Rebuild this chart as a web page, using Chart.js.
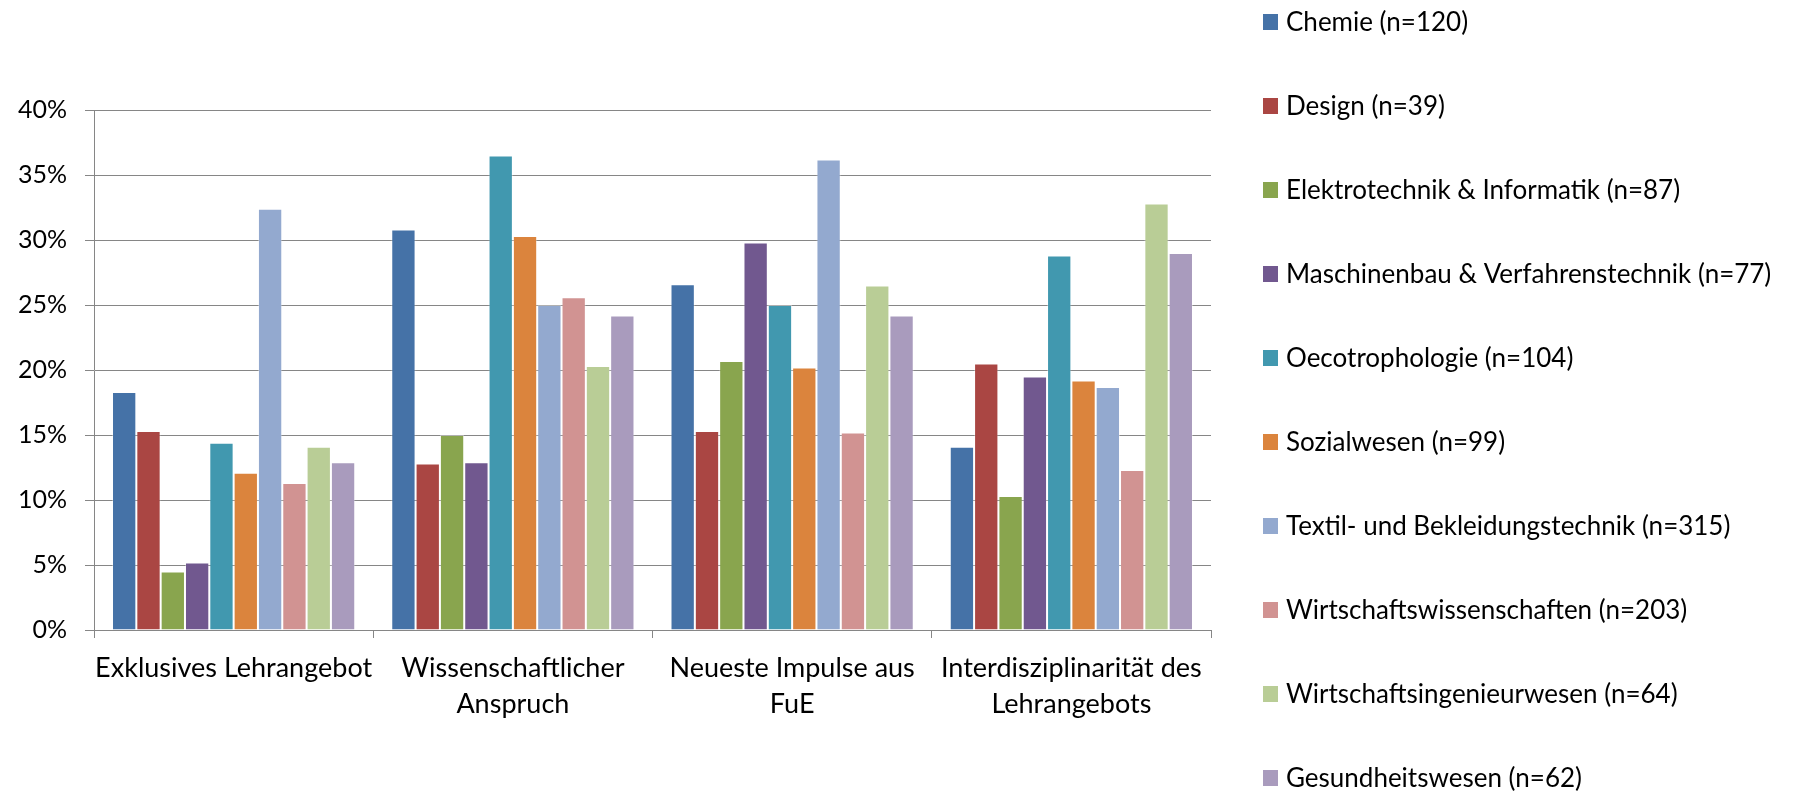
<!DOCTYPE html>
<html>
<head>
<meta charset="utf-8">
<title>Wahlgründe nach Fachbereich</title>
<script src="https://cdn.jsdelivr.net/npm/chart.js@4/dist/chart.umd.min.js"></script>
<style>
  html, body { margin: 0; padding: 0; background: #fff; overflow: hidden; }
  #wrap { width: 1813px; height: 792px; }
</style>
</head>
<body>
<div id="wrap"><canvas id="chart" width="1813" height="792"></canvas></div>
<script>
// Kategorien (x-Achse), mehrzeilige Beschriftungen als Arrays
const categories = [
  'Exklusives Lehrangebot',
  ['Wissenschaftlicher', 'Anspruch'],
  ['Neueste Impulse aus', 'FuE'],
  ['Interdisziplinarität des', 'Lehrangebots']
];

// Fachbereiche (Reihenfolge der Balken je Gruppe)
const seriesNames = [
  'Chemie (n=120)',
  'Design (n=39)',
  'Elektrotechnik & Informatik (n=87)',
  'Maschinenbau & Verfahrenstechnik (n=77)',
  'Oecotrophologie (n=104)',
  'Sozialwesen (n=99)',
  'Textil- und Bekleidungstechnik (n=315)',
  'Wirtschaftswissenschaften (n=203)',
  'Wirtschaftsingenieurwesen (n=64)',
  'Gesundheitswesen (n=62)'
];

// Anteile in Prozent je Kategorie
const chemie          = [18.3, 30.8, 26.6, 14.1];
const design          = [15.3, 12.8, 15.3, 20.5];
const elektrotechnik  = [4.5, 15.0, 20.7, 10.3];
const maschinenbau    = [5.2, 12.9, 29.8, 19.5];
const oecotrophologie = [14.4, 36.5, 25.0, 28.8];
const sozialwesen     = [12.1, 30.3, 20.2, 19.2];
const textil          = [32.4, 25.0, 36.2, 18.7];
const wiwi            = [11.3, 25.6, 15.2, 12.3];
const wiing           = [14.1, 20.3, 26.5, 32.8];
const gesundheit      = [12.9, 24.2, 24.2, 29.0];

const seriesValues = [chemie, design, elektrotechnik, maschinenbau, oecotrophologie,
                      sozialwesen, textil, wiwi, wiing, gesundheit];

const seriesColors = ['#4572A7', '#AA4643', '#89A54E', '#71588F', '#4198AF',
                      '#DB843D', '#93A9CF', '#D19392', '#B9CD96', '#A99BBD'];

// y-Achse: 0 % bis 40 % in 5er-Schritten
const yMin = 0, yMax = 40, yStep = 5;

const FONT = 'Lato, "Open Sans", sans-serif';
const AXIS_GREY = '#868686';

// Legende rechts neben dem Diagramm, eine Spalte mit großem Zeilenabstand
const sideLegend = {
  id: 'sideLegend',
  afterDraw(chart, args, o) {
    const ctx = chart.ctx;
    ctx.save();
    ctx.font = `${o.size}px ${FONT}`;
    ctx.textBaseline = 'middle';
    ctx.textAlign = 'left';
    chart.data.datasets.forEach((ds, i) => {
      const cy = o.top + i * o.step;
      ctx.fillStyle = ds.backgroundColor;
      ctx.fillRect(o.boxX, cy - o.boxH / 2, o.boxW, o.boxH);
      ctx.fillStyle = '#000';
      ctx.fillText(ds.label, o.textX, cy + 1);
    });
    ctx.restore();
  }
};

Chart.defaults.font.family = FONT;
Chart.defaults.color = '#000';

new Chart(document.getElementById('chart'), {
  type: 'bar',
  data: {
    labels: categories,
    datasets: seriesNames.map((name, i) => ({
      label: name,
      data: seriesValues[i],
      backgroundColor: seriesColors[i],
      borderColor: 'rgba(255,255,255,0.35)',
      borderWidth: 1,
      categoryPercentage: 0.871,
      barPercentage: 1.0
    }))
  },
  options: {
    responsive: false,
    animation: false,
    devicePixelRatio: 1,
    layout: { padding: { left: 0, top: 110, right: 602, bottom: 0 } },
    plugins: {
      legend: { display: false },
      tooltip: { enabled: false },
      sideLegend: { top: 22, step: 84, boxX: 1263, boxW: 15, boxH: 16, textX: 1286, size: 26 }
    },
    scales: {
      x: {
        offset: true,
        ticks: {
          color: '#000',
          font: { size: 27, lineHeight: 1.333 },
          padding: 12,
          autoSkip: false,
          maxRotation: 0,
          minRotation: 0
        },
        grid: { drawOnChartArea: false, drawTicks: true, tickLength: 8, color: AXIS_GREY, offset: true },
        border: { display: true, color: AXIS_GREY, width: 1 },
        afterFit(scale) { scale.height = 792 - 630; }
      },
      y: {
        min: yMin,
        max: yMax,
        ticks: {
          stepSize: yStep,
          color: '#000',
          font: { size: 25 },
          padding: 18,
          callback: v => v + '%'
        },
        grid: { color: AXIS_GREY, lineWidth: 1, drawTicks: true, tickLength: 9 },
        border: { display: true, color: AXIS_GREY, width: 1 },
        afterFit(scale) { scale.width = 94; }
      }
    }
  },
  plugins: [sideLegend]
});
</script>
</body>
</html>
